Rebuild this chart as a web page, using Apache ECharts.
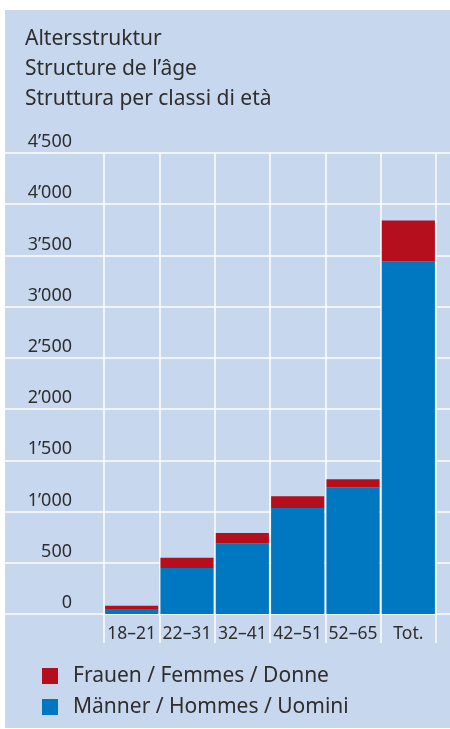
<!DOCTYPE html>
<html>
<head>
<meta charset="utf-8">
<script src="https://cdn.jsdelivr.net/npm/echarts@6/dist/echarts.min.js"></script>
<style>
  html, body { margin: 0; padding: 0; background: #fff; }
  #main { width: 450px; height: 729px; }
</style>
</head>
<body>
<div id="main"></div>
<script>
// age groups and counts
const categories = ["18–21", "22–31", "32–41", "42–51", "52–65", "Tot."];
const men = [50, 450, 690, 1035, 1235, 3440];
const women = [30, 100, 100, 115, 80, 400];
const yTicks = [0, 500, 1000, 1500, 2000, 2500, 3000, 3500, 4000, 4500];

const font = "Noto Sans";
const textColor = "#2e2e2e";
const fmt = (v) => {
  const s = String(v);
  return s.length > 3 ? s.slice(0, -3) + "’" + s.slice(-3) : s;
};

const chart = echarts.init(document.getElementById("main"));

const option = {
  animation: false,
  textStyle: { fontFamily: font },
  graphic: [
    {
      type: "rect",
      z: -10,
      shape: { x: 5, y: 10, width: 445, height: 718 },
      style: { fill: "#c6d7ee" },
    },
  ],
  title: {
    text: "Altersstruktur\nStructure de l’âge\nStruttura per classi di età",
    left: 20,
    top: 19,
    textStyle: {
      fontFamily: font,
      fontWeight: "normal",
      fontSize: 21,
      lineHeight: 30,
      color: textColor,
    },
  },
  legend: {
    orient: "vertical",
    left: 37,
    top: 660,
    itemWidth: 16,
    itemHeight: 16,
    itemGap: 9,
    icon: "rect",
    data: ["Frauen / Femmes / Donne", "Männer / Hommes / Uomini"],
    textStyle: { fontFamily: font, fontSize: 21, lineHeight: 22, color: textColor, padding: [0, 0, 0, 10] },
  },
  grid: [
    { left: 5, right: 0, top: 153, bottom: 115 },
    { left: 104, right: 14, top: 153, bottom: 115 },
  ],
  xAxis: [
    { gridIndex: 0, type: "value", show: false },
    {
      gridIndex: 1,
      type: "category",
      data: categories,
      axisLine: { show: false },
      axisTick: {
        show: true,
        interval: 0,
        length: 29,
        lineStyle: { color: "#fff", width: 1.5 },
      },
      splitLine: {
        show: true,
        interval: 0,
        lineStyle: { color: "#fff", width: 1.5 },
      },
      axisLabel: {
        interval: 0,
        margin: 11,
        fontFamily: font,
        fontSize: 17.5,
        color: textColor,
      },
    },
  ],
  yAxis: [
    {
      gridIndex: 0,
      type: "value",
      min: 0,
      max: 4500,
      interval: 500,
      axisLine: { show: false },
      axisTick: { show: false },
      axisLabel: { show: false },
      splitLine: { show: true, lineStyle: { color: "#fff", width: 1.5 } },
    },
    {
      gridIndex: 1,
      type: "value",
      min: yTicks[0],
      max: yTicks[yTicks.length - 1],
      interval: 500,
      axisLine: { show: false },
      axisTick: { show: false },
      splitLine: { show: false },
      axisLabel: {
        margin: 32,
        align: "right",
        verticalAlign: "bottom",
        padding: [0, 0, 2, 0],
        fontFamily: font,
        fontSize: 18,
        color: textColor,
        formatter: fmt,
      },
    },
  ],
  series: [
    {
      name: "Männer / Hommes / Uomini",
      type: "bar",
      xAxisIndex: 1,
      yAxisIndex: 1,
      stack: "all",
      barWidth: "96%",
      itemStyle: { color: "#0077c1" },
      data: men,
    },
    {
      name: "Frauen / Femmes / Donne",
      type: "bar",
      xAxisIndex: 1,
      yAxisIndex: 1,
      stack: "all",
      barWidth: "96%",
      itemStyle: { color: "#b50f1d" },
      data: women,
    },
  ],
};

chart.setOption(option);
</script>
</body>
</html>
